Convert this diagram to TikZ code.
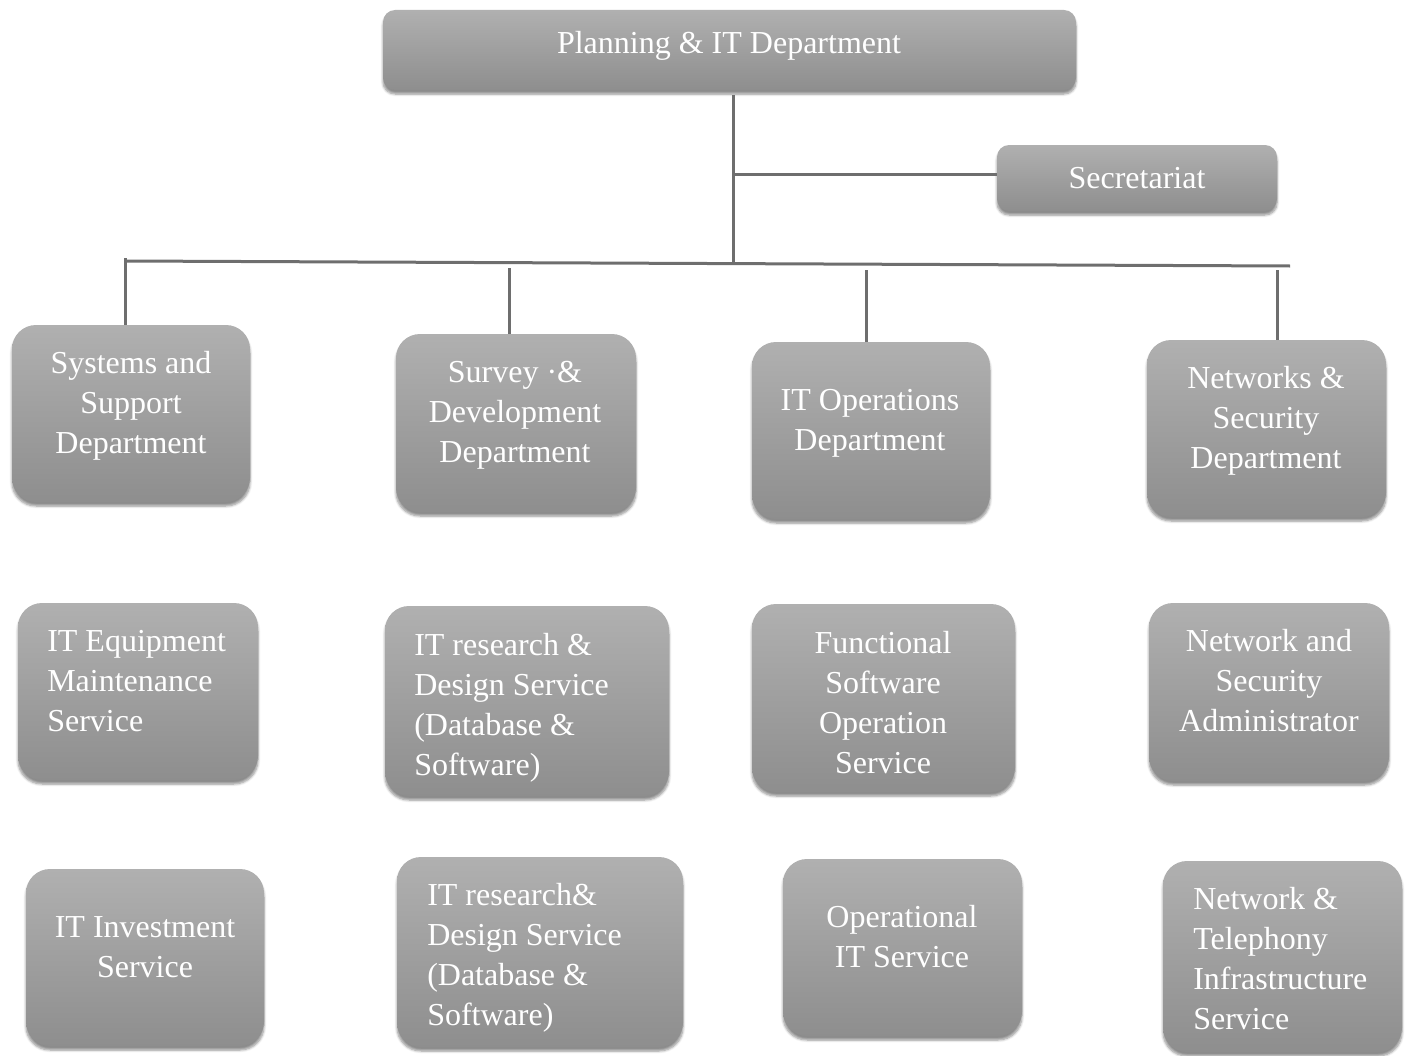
\documentclass[tikz,border=0pt]{standalone}
\usepackage{fontspec}
\setmainfont{Liberation Serif}
\usetikzlibrary{fit,shadows.blur}
\definecolor{boxtop}{HTML}{B0B0B0}
\definecolor{boxbot}{HTML}{8E8E8E}
\definecolor{wire}{HTML}{6E6E6E}
\tikzset{
  box/.style={rectangle, inner sep=0pt, outer sep=0pt, draw=none,
    rounded corners=18pt, top color=boxtop, bottom color=boxbot,
    blur shadow={shadow xshift=0pt, shadow yshift=-3pt, shadow blur steps=6,
      shadow blur extra rounding=2pt, shadow opacity=45}},
  headbox/.style={box, rounded corners=9pt},
  lbl/.style={text=white, inner sep=0pt, align=center,
    font=\fontsize{24}{30}\selectfont},
  lbll/.style={lbl, align=left, anchor=west},
  wireline/.style={draw=wire, line width=2.25pt}
}
\begin{document}
\begin{tikzpicture}[x=0.75pt, y=-0.75pt]
\useasboundingbox (0,0) rectangle (1410,1056);

% top level
\node[headbox, fit={(383,10) (1076,90)}] (top) {};
\node[lbl] (top-t) at (729,46) {Planning \& IT Department};
\node[headbox, fit={(997,145) (1277,211)}] (sec) {};
\node[lbl] (sec-t) at (1137,178) {Secretariat};

% departments
\node[box, fit={(12,325) (250,502)}] (d1) {};
\node[lbl] (d1-t) at (131,406) {Systems and\\Support\\Department};
\node[box, fit={(396,334) (636,512)}] (d2) {};
\node[lbl] (d2-t) at (515,415) {Survey ·\&\\Development\\Department};
\node[box, fit={(752,342) (990,519)}] (d3) {};
\node[lbl] (d3-t) at (870,423) {IT Operations\\Department};
\node[box, fit={(1147,340) (1386,517)}] (d4) {};
\node[lbl] (d4-t) at (1266,421) {Networks \&\\Security\\Department};

% services, first row
\node[box, fit={(18,603) (258,780)}] (s11) {};
\node[lbll] (s11-t) at (47,681) {IT Equipment\\Maintenance\\Service};
\node[box, fit={(385,606) (669,796)}] (s21) {};
\node[lbll] (s21-t) at (414,708) {IT research \&\\Design Service\\(Database \&\\Software)};
\node[box, fit={(752,604) (1015,792)}] (s31) {};
\node[lbl] (s31-t) at (883,703) {Functional\\Software\\Operation\\Service};
\node[box, fit={(1149,603) (1389,781)}] (s41) {};
\node[lbl] (s41-t) at (1269,681) {Network and\\Security\\Administrator};

% services, second row
\node[box, fit={(26,869) (264,1046)}] (s12) {};
\node[lbl] (s12-t) at (145,947) {IT Investment\\Service};
\node[box, fit={(397,857) (683,1047)}] (s22) {};
\node[lbll] (s22-t) at (427,958) {IT research\&\\Design Service\\(Database \&\\Software)};
\node[box, fit={(783,859) (1022,1036)}] (s32) {};
\node[lbl] (s32-t) at (902,937) {Operational\\IT Service};
\node[box, fit={(1163,861) (1402,1052)}] (s42) {};
\node[lbll] (s42-t) at (1193,959) {Network \&\\Telephony\\Infrastructure\\Service};

% connector junctions
\coordinate (stem-top) at (733,95);
\coordinate (stem-sec) at (733,174);
\coordinate (stem-bus) at (733,263);
\coordinate (bus-l) at (125,261);
\coordinate (bus-r) at (1290,266);
\coordinate (drop1) at (125,258);
\coordinate (drop2) at (509,268);
\coordinate (drop3) at (866,270);
\coordinate (drop4) at (1277,270);

% connectors
\draw[wireline] (stem-top) -- (stem-bus);
\draw[wireline] (stem-sec) -- (sec.west |- stem-sec);
\draw[wireline] (bus-l) -- (bus-r);
\draw[wireline] (drop1) -- (drop1 |- d1.north);
\draw[wireline] (drop2) -- (drop2 |- d2.north);
\draw[wireline] (drop3) -- (drop3 |- d3.north);
\draw[wireline] (drop4) -- (drop4 |- d4.north);
\end{tikzpicture}
\end{document}
